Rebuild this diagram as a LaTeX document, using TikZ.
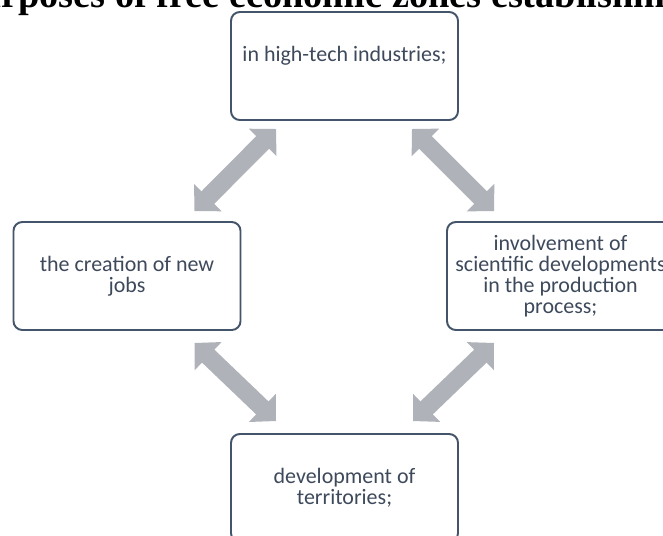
\documentclass[tikz,border=0pt]{standalone}
\usepackage{fontspec}
\setmainfont{Carlito}
\newfontfamily\titlefont{Liberation Serif}
\usepackage{tikz}
\usetikzlibrary{arrows.meta,calc}

\definecolor{boxline}{RGB}{68,84,106}
\definecolor{boxtext}{RGB}{62,74,92}
\definecolor{arrowgray}{RGB}{175,178,184}

\begin{document}
\begin{tikzpicture}[
  font=\fontsize{12.5}{12}\selectfont,
  goalbox/.style={rectangle, rounded corners=5pt, draw=boxline, line width=1.1pt, fill=white,
    text=boxtext, minimum width=4.54cm, minimum height=2.16cm, align=center, inner sep=2pt},
  dblarrow/.style={draw=arrowgray, line width=10.2pt,
    {Triangle[length=10.8pt,width=21.5pt]}-{Triangle[length=10.8pt,width=21.5pt]}}
]
  \useasboundingbox (0,0) rectangle (13.26,-10.7);
  \clip (0,0) rectangle (13.26,-10.7);

  \node[anchor=base west, inner sep=0pt, font=\titlefont\bfseries\fontsize{21.8}{24}\selectfont] (title) at (0.02,-0.14)
    {\llap{Pu}rposes of free economic zones establishment};

  \node[goalbox, text depth=14pt] (hitech) at (6.89,-1.32) {in high-tech industries;};
  \node[goalbox] (jobs) at (2.54,-5.52) {the creation of new\\jobs};
  \node[goalbox] (science) at (11.21,-5.52) {involvement of\\scientific developments\\in the production\\process;};
  \node[goalbox] (terr) at (6.89,-9.76) {development of\\territories;};

  \draw[dblarrow] ($(hitech.south west)+(0.92,-0.16)$) -- ($(jobs.north east)+(-0.94,0.2)$);
  \draw[dblarrow] ($(hitech.south east)+(-0.94,-0.16)$) -- ($(science.north west)+(0.96,0.2)$);
  \draw[dblarrow] ($(jobs.south east)+(-0.94,-0.24)$) -- ($(terr.north west)+(0.92,0.24)$);
  \draw[dblarrow] ($(science.south west)+(0.96,-0.24)$) -- ($(terr.north east)+(-0.92,0.24)$);
\end{tikzpicture}
\end{document}
